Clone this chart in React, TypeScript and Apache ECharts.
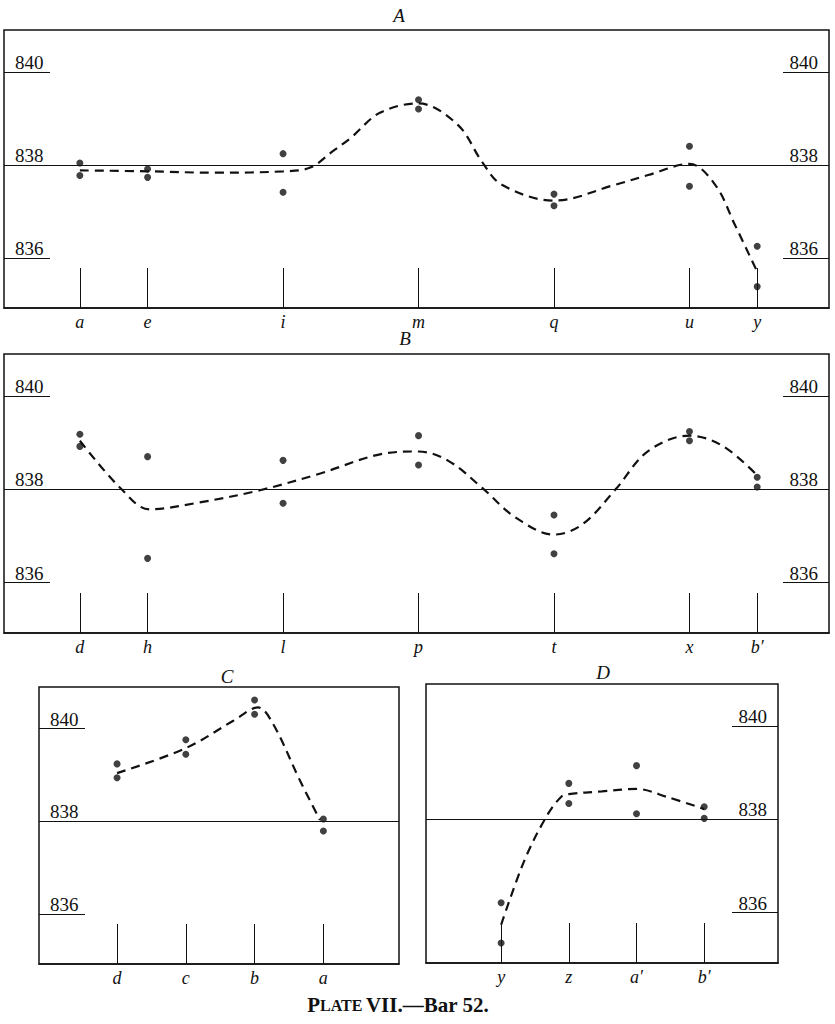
import React, { useEffect, useRef } from "react";
import * as echarts from "echarts";

// ---- shared scale ----
const yTicks = [836, 838, 840];
const baseline = 838;
const yMin = 834.92;
const yMax = 840.9;

// ---- Panel A ----
const stationsA = ["a", "e", "i", "m", "q", "u", "y"];
const positionsA = [0, 1, 3, 5, 7, 9, 10];
const upperA = [838.04, 837.91, 838.24, 839.4, 837.37, 838.4, 836.25];
const lowerA = [837.77, 837.73, 837.41, 839.2, 837.12, 837.54, 835.38];
const curveXA = [0, 1, 2, 3, 3.4, 3.74, 4, 4.43, 5, 5.58, 5.94, 6.23, 7, 7.9, 8.39, 9, 9.38, 9.67, 10];
const curveYA = [837.88, 837.86, 837.83, 837.86, 837.94, 838.3, 838.58, 839.12, 839.32, 838.86, 838.06, 837.57, 837.23, 837.57, 837.78, 838.02, 837.57, 836.71, 835.7];

// ---- Panel B ----
const stationsB = ["d", "h", "l", "p", "t", "x", "b\u2032"];
const positionsB = [0, 1, 3, 5, 7, 9, 10];
const upperB = [839.18, 838.7, 838.62, 839.15, 837.45, 839.24, 838.26];
const lowerB = [838.92, 836.52, 837.7, 838.52, 836.62, 839.04, 838.05];
const curveXB = [0, 0.59, 1.03, 1.77, 2.66, 3.55, 4.43, 5, 5.44, 5.94, 6.43, 7, 7.42, 7.91, 8.39, 9, 9.49, 10];
const curveYB = [839.04, 838.04, 837.57, 837.72, 837.98, 838.34, 838.75, 838.81, 838.61, 838.03, 837.4, 837.03, 837.25, 838.0, 838.82, 839.15, 838.93, 838.3];

// ---- Panel C ----
const stationsC = ["d", "c", "b", "a"];
const positionsC = [0, 1, 2, 3];
const upperC = [839.24, 839.76, 840.62, 838.05];
const lowerC = [838.94, 839.45, 840.31, 837.79];
const curveXC = [0, 1, 1.69, 2.05, 2.27, 2.66, 2.95];
const curveYC = [839.04, 839.58, 840.17, 840.46, 840.1, 838.88, 838.03];

// ---- Panel D ----
const stationsD = ["y", "z", "a\u2032", "b\u2032"];
const positionsD = [0, 1, 2, 3];
const upperD = [836.21, 838.77, 839.15, 838.27];
const lowerD = [835.35, 838.34, 838.12, 838.02];
const curveXD = [0, 0.35, 0.69, 0.9, 1, 1.49, 2, 2.47, 3];
const curveYD = [835.74, 837.14, 838.11, 838.5, 838.54, 838.6, 838.65, 838.47, 838.22];

const SERIF = "'Liberation Serif', 'DejaVu Serif', serif";

type Panel = {
  grid: { left: number; top: number; width: number; height: number };
  xMin: number;
  xMax: number;
  stations: string[];
  positions: number[];
  upper: number[];
  lower: number[];
  curveX: number[];
  curveY: number[];
  leftAxis: boolean;
  rightAxis: boolean;
};

const panels: Panel[] = [
  {
    grid: { left: 4, top: 30, width: 825, height: 278 },
    xMin: -1.12, xMax: 11.06,
    stations: stationsA, positions: positionsA, upper: upperA, lower: lowerA,
    curveX: curveXA, curveY: curveYA, leftAxis: true, rightAxis: true,
  },
  {
    grid: { left: 4, top: 354, width: 825, height: 279 },
    xMin: -1.12, xMax: 11.06,
    stations: stationsB, positions: positionsB, upper: upperB, lower: lowerB,
    curveX: curveXB, curveY: curveYB, leftAxis: true, rightAxis: true,
  },
  {
    grid: { left: 39, top: 687, width: 360, height: 277 },
    xMin: -1.135, xMax: 4.1,
    stations: stationsC, positions: positionsC, upper: upperC, lower: lowerC,
    curveX: curveXC, curveY: curveYC, leftAxis: true, rightAxis: false,
  },
  {
    grid: { left: 426, top: 684, width: 352, height: 279 },
    xMin: -1.11, xMax: 4.09,
    stations: stationsD, positions: positionsD, upper: upperD, lower: lowerD,
    curveX: curveXD, curveY: curveYD, leftAxis: false, rightAxis: true,
  },
];

function buildOption() {
  const grids: any[] = [];
  const xAxes: any[] = [];
  const yAxes: any[] = [];
  const series: any[] = [];

  panels.forEach((p, gi) => {
    grids.push({
      ...p.grid,
      show: true,
      borderColor: "#111",
      borderWidth: 1.5,
      backgroundColor: "transparent",
      containLabel: false,
      outerBoundsMode: "none",
    });
    xAxes.push({
      type: "value",
      gridIndex: gi,
      min: p.xMin,
      max: p.xMax,
      axisLine: { show: true, onZero: false, lineStyle: { color: "#111", width: 1.5 } },
      splitLine: { show: false },
      axisTick: {
        show: true,
        inside: true,
        length: 40,
        customValues: p.positions,
        lineStyle: { color: "#111", width: 1 },
      },
      axisLabel: {
        show: true,
        customValues: p.positions,
        margin: 5,
        color: "#111",
        fontFamily: SERIF,
        fontStyle: "italic",
        fontSize: 18,
        formatter: (v: number) => {
          const i = p.positions.indexOf(v);
          return i >= 0 ? p.stations[i] : "";
        },
      },
    });
    const yBase = (position: string) => ({
      type: "value",
      gridIndex: gi,
      position,
      min: yMin,
      max: yMax,
      axisLine: { show: false, onZero: false },
      splitLine: { show: false },
      axisTick: {
        show: true,
        inside: true,
        length: 46,
        customValues: yTicks,
        lineStyle: { color: "#111", width: 1 },
      },
      axisLabel: {
        show: true,
        inside: true,
        customValues: yTicks,
        verticalAlign: "bottom",
        margin: 11,
        color: "#111",
        fontFamily: SERIF,
        fontSize: 19,
        formatter: (v: number) => String(v),
      },
    });
    const dataAxisIndex = yAxes.length;
    yAxes.push(yBase(p.leftAxis ? "left" : "right"));
    if (p.leftAxis && p.rightAxis) {
      yAxes.push(yBase("right"));
    }

    series.push({
      type: "line",
      xAxisIndex: gi,
      yAxisIndex: dataAxisIndex,
      data: p.curveX.map((x, i) => [x, p.curveY[i]]),
      smooth: 0.35,
      showSymbol: false,
      symbol: "none",
      lineStyle: { color: "#111", width: 2.2, type: [9, 6] },
      markLine: {
        silent: true,
        symbol: "none",
        label: { show: false },
        lineStyle: { color: "#111", width: 1, type: "solid" },
        data: [{ yAxis: baseline }],
      },
      z: 3,
    });
    series.push({
      type: "scatter",
      xAxisIndex: gi,
      yAxisIndex: dataAxisIndex,
      symbol: "circle",
      symbolSize: 7,
      itemStyle: { color: "#111" },
      data: [
        ...p.positions.map((x, i) => [x, p.upper[i]]),
        ...p.positions.map((x, i) => [x, p.lower[i]]),
      ],
      z: 4,
    });
  });

  const titleStyle = (text: string, x: number, y: number) => ({
    type: "text",
    x,
    y,
    style: {
      text,
      textAlign: "center",
      textVerticalAlign: "middle",
      fill: "#111",
      font: `italic 19px ${SERIF}`,
    },
  });

  return {
    animation: false,
    backgroundColor: "#fff",
    grid: grids,
    xAxis: xAxes,
    yAxis: yAxes,
    series,
    graphic: [
      titleStyle("A", 399, 15),
      titleStyle("B", 405, 338),
      titleStyle("C", 227, 676),
      titleStyle("D", 603, 672),
      {
        type: "text",
        x: 398,
        y: 1005,
        style: {
          text: "{a|P}{b|LATE} {a|VII.—Bar 52.}",
          textAlign: "center",
          textVerticalAlign: "middle",
          fill: "#111",
          rich: {
            a: { fontFamily: SERIF, fontSize: 21, fontWeight: "bold", fill: "#111" },
            b: { fontFamily: SERIF, fontSize: 16, fontWeight: "bold", fill: "#111" },
          },
        },
      },
    ],
  };
}

export default function App() {
  const ref = useRef<HTMLDivElement>(null);
  useEffect(() => {
    if (!ref.current) return;
    const chart = echarts.init(ref.current, undefined, { renderer: "svg" });
    chart.setOption(buildOption() as any);
    return () => chart.dispose();
  }, []);
  return (
    <div
      ref={ref}
      style={{ position: "fixed", left: 0, top: 0, width: 835, height: 1024, background: "#fff" }}
    />
  );
}
